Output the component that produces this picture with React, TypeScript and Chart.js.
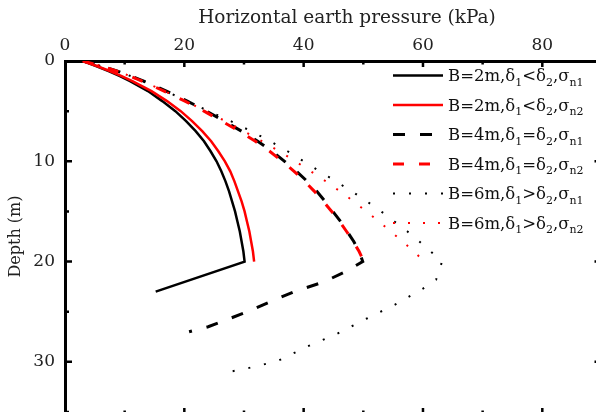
import React, { useEffect, useRef } from 'react';
import { Chart, registerables } from 'chart.js';

Chart.register(...registerables);

const FONT = "'DejaVu Serif', 'Liberation Serif', serif";

const xTickValues = [0, 10, 20, 30, 40, 50, 60, 70, 80];
const xLabelValues = [0, 20, 40, 60, 80];
const yTickValues = [0, 5, 10, 15, 20, 25, 30, 35];
const yLabelValues = [0, 10, 20, 30];

const xAxisTitle = 'Horizontal earth pressure (kPa)';
const yAxisTitle = 'Depth (m)';

const seriesLabels = [
  'B=2m,δ₁<δ₂,σₙ₁',
  'B=2m,δ₁<δ₂,σₙ₂',
  'B=4m,δ₁=δ₂,σₙ₁',
  'B=4m,δ₁=δ₂,σₙ₂',
  'B=6m,δ₁>δ₂,σₙ₁',
  'B=6m,δ₁>δ₂,σₙ₂',
];

const ascDepth = [0, 0.5, 1, 1.5, 2, 3, 4, 5, 6, 7, 8, 9, 10, 11, 12, 13, 14, 15, 16, 17, 18, 19, 20];

const b2n1Depth = [...ascDepth, 23];
const b2n1Pressure = [3.0, 5.2, 7.3, 9.2, 10.9, 13.9, 16.3, 18.5, 20.3, 21.9, 23.3, 24.4, 25.4, 26.2, 26.9, 27.5, 28.0, 28.5, 28.9, 29.3, 29.6, 29.9, 30.1, 15.2];

const b2n2Depth = [...ascDepth];
const b2n2Pressure = [3.0, 5.3, 7.5, 9.5, 11.3, 14.5, 17.1, 19.4, 21.3, 23.0, 24.5, 25.7, 26.8, 27.7, 28.4, 29.0, 29.6, 30.1, 30.5, 30.9, 31.2, 31.5, 31.7];

const b4n1Depth = [...ascDepth, 21, 22, 23, 24, 25, 26.5, 27];
const b4n1Pressure = [3.0, 6.0, 8.7, 11.1, 13.2, 17.0, 20.5, 23.7, 26.7, 29.6, 32.3, 34.7, 36.8, 38.8, 40.6, 42.2, 43.6, 44.9, 46.2, 47.3, 48.4, 49.3, 49.9, 47.0, 43.5, 38.4, 34.4, 30.6, 24.0, 20.8];

const b4n2Depth = [...ascDepth];
const b4n2Pressure = [3.0, 6.0, 8.6, 10.9, 12.9, 16.6, 20.1, 23.3, 26.3, 29.2, 31.9, 34.3, 36.4, 38.4, 40.2, 41.8, 43.3, 44.7, 46.0, 47.2, 48.3, 49.3, 50.1];

const b6n1Depth = [...ascDepth, 21.8, 22.7, 24.3, 25.7, 27.2, 28.5, 29.9, 30.3, 30.7, 31.0];
const b6n1Pressure = [3.0, 6.0, 8.7, 11.0, 13.0, 16.9, 20.4, 24.1, 27.8, 31.2, 34.4, 37.3, 40.0, 42.7, 45.4, 48.1, 50.6, 53.0, 55.2, 57.4, 59.4, 61.3, 63.2, 62.2, 60.0, 55.3, 50.5, 45.6, 40.5, 35.7, 33.0, 30.2, 27.5];

const b6n2Depth = [...ascDepth];
const b6n2Pressure = [3.0, 6.0, 8.6, 10.9, 12.9, 16.7, 20.2, 23.6, 26.9, 30.0, 33.0, 35.9, 38.6, 41.2, 43.7, 46.1, 48.4, 50.5, 52.6, 54.6, 56.6, 58.5, 60.2];

const seriesDepths = [b2n1Depth, b2n2Depth, b4n1Depth, b4n2Depth, b6n1Depth, b6n2Depth];
const seriesPressures = [b2n1Pressure, b2n2Pressure, b4n1Pressure, b4n2Pressure, b6n1Pressure, b6n2Pressure];

const seriesStyles = [
  { color: '#000000', width: 2.5, dash: [] as number[], order: 1 },
  { color: '#ff0000', width: 2.5, dash: [] as number[], order: 0 },
  { color: '#000000', width: 3, dash: [12, 15], order: 1 },
  { color: '#ff0000', width: 3, dash: [11, 15], order: 0 },
  { color: '#000000', width: 2, dash: [2, 14], order: 1 },
  { color: '#ff0000', width: 2, dash: [2, 13], order: 0 },
];

const SUBS: Record<string, string> = { '₀': '0', '₁': '1', '₂': '2', 'ₙ': 'n' };

function drawRich(ctx: CanvasRenderingContext2D, text: string, x: number, y: number, size: number) {
  let cx = x;
  for (const ch of Array.from(text)) {
    const sub = SUBS[ch];
    if (sub !== undefined) {
      ctx.font = `${Math.round(size * 0.68)}px ${FONT}`;
      ctx.fillText(sub, cx, y + size * 0.3);
      cx += ctx.measureText(sub).width;
    } else {
      ctx.font = `${size}px ${FONT}`;
      ctx.fillText(ch, cx, y);
      cx += ctx.measureText(ch).width;
    }
  }
}

const framePlugin = {
  id: 'frameTicksLegend',
  afterDatasetsDraw(chart: any) {
    const { ctx, chartArea, scales } = chart;
    const xs = scales.x;
    const ys = scales.y;
    const bottomEdge = chartArea.bottom + 2;
    const rightEdge = chartArea.right + 5.5;
    ctx.save();
    ctx.strokeStyle = '#000';
    ctx.lineWidth = 2.5;
    ctx.setLineDash([]);
    ctx.beginPath();
    xTickValues.forEach((v) => {
      const px = xs.getPixelForValue(v);
      const len = xLabelValues.includes(v) ? 6 : 3.5;
      if (v !== 0) {
        ctx.moveTo(px, chartArea.top);
        ctx.lineTo(px, chartArea.top + len);
        ctx.moveTo(px, bottomEdge);
        ctx.lineTo(px, bottomEdge - len);
      }
    });
    yTickValues.forEach((v) => {
      const py = ys.getPixelForValue(v);
      const len = yLabelValues.includes(v) ? 7 : 4;
      if (v !== 0) {
        ctx.moveTo(chartArea.left, py);
        ctx.lineTo(chartArea.left + len, py);
        ctx.moveTo(rightEdge, py);
        ctx.lineTo(rightEdge - len, py);
      }
    });
    ctx.stroke();

    // x axis title
    ctx.fillStyle = '#222';
    ctx.font = `18.5px ${FONT}`;
    ctx.textAlign = 'center';
    ctx.textBaseline = 'alphabetic';
    ctx.fillText(xAxisTitle, 347, 23);

    // legend
    const rowY0 = 75.5;
    const rowGap = 29.5;
    ctx.textAlign = 'left';
    ctx.textBaseline = 'alphabetic';
    chart.data.datasets.forEach((ds: any, i: number) => {
      const y = rowY0 + i * rowGap;
      ctx.strokeStyle = ds.borderColor;
      ctx.lineWidth = ds.borderWidth;
      ctx.setLineDash(ds.borderDash || []);
      ctx.beginPath();
      ctx.moveTo(393, y);
      ctx.lineTo(443, y);
      ctx.stroke();
      ctx.setLineDash([]);
      ctx.fillStyle = '#111';
      drawRich(ctx, ds.label, 448, y + 5.5, 16.5);
    });
    ctx.restore();
  },
};

export default function App() {
  const canvasRef = useRef<HTMLCanvasElement | null>(null);

  useEffect(() => {
    const canvas = canvasRef.current;
    if (!canvas) return;
    const datasets = seriesLabels.map((label, i) => ({
      label,
      data: seriesDepths[i].map((d, k) => ({ x: seriesPressures[i][k], y: d })),
      showLine: true,
      borderColor: seriesStyles[i].color,
      backgroundColor: seriesStyles[i].color,
      borderWidth: seriesStyles[i].width,
      borderDash: seriesStyles[i].dash,
      pointRadius: 0,
      pointHoverRadius: 0,
      tension: 0,
      fill: false,
      order: seriesStyles[i].order,
    }));

    const tickFont = { family: FONT, size: 17 };

    const chart = new Chart(canvas, {
      type: 'scatter',
      data: { datasets },
      options: {
        animation: false,
        responsive: false,
        events: [],
        layout: { padding: 0 },
        plugins: {
          legend: { display: false },
          tooltip: { enabled: false },
          title: { display: false },
        },
        scales: {
          x: {
            type: 'linear',
            position: 'top',
            min: 0,
            max: 89,
            afterBuildTicks: (s: any) => {
              s.ticks = xTickValues.map((v) => ({ value: v }));
            },
            afterFit: (s: any) => {
              s.height = 61;
              s.paddingLeft = 0;
              s.paddingRight = 0;
            },
            grid: { display: false, drawOnChartArea: false, drawTicks: false },
            border: { display: true, color: '#000', width: 3 },
            ticks: {
              padding: 5,
              font: tickFont,
              color: '#222',
              maxRotation: 0,
              autoSkip: false,
              callback: (v: any) => (xLabelValues.includes(Number(v)) ? String(v) : ''),
            },
            title: { display: false },
          },
          y: {
            type: 'linear',
            reverse: true,
            min: 0,
            max: 35,
            afterBuildTicks: (s: any) => {
              s.ticks = yTickValues.map((v) => ({ value: v }));
            },
            afterFit: (s: any) => {
              s.width = 65;
              s.paddingTop = 0;
              s.paddingBottom = 0;
            },
            grid: { display: false, drawOnChartArea: false, drawTicks: false },
            border: { display: true, color: '#000', width: 3 },
            ticks: {
              padding: 10,
              font: tickFont,
              color: '#222',
              autoSkip: false,
              callback: (v: any) => (yLabelValues.includes(Number(v)) ? String(v) : ''),
            },
            title: {
              display: true,
              text: yAxisTitle,
              color: '#222',
              font: { family: FONT, size: 16 },
              padding: { top: 6, bottom: 0 },
            },
          },
        },
      },
      plugins: [framePlugin],
    });

    return () => chart.destroy();
  }, []);

  return (
    <div style={{ position: 'fixed', left: 0, top: 0, width: 596, height: 412, background: '#fff' }}>
      <canvas ref={canvasRef} width={596} height={412} style={{ display: 'block' }} />
    </div>
  );
}
